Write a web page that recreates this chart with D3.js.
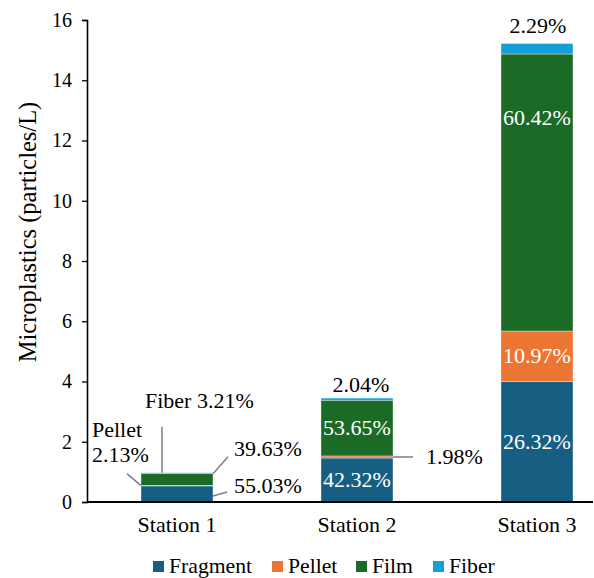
<!DOCTYPE html>
<html>
<head>
<meta charset="utf-8">
<script src="https://cdn.jsdelivr.net/npm/d3@7"></script>
<style>
  html, body { margin: 0; padding: 0; background: #fff; }
  svg { display: block; }
  svg text { font-family: "Liberation Serif"; }
</style>
</head>
<body>
<svg id="chart" width="594" height="578"></svg>
<script>
// Microplastic abundance per station, split by particle shape
const stations = ["Station 1", "Station 2", "Station 3"];
const totals = [0.97, 3.45, 15.22];          // particles/L
const shapes = ["Fragment", "Pellet", "Film", "Fiber"];
const fragmentPct = [55.03, 42.32, 26.32];
const pelletPct = [2.13, 1.98, 10.97];
const filmPct = [39.63, 53.65, 60.42];
const fiberPct = [3.21, 2.04, 2.29];
const colors = ["#175F82", "#EC7533", "#1B6B27", "#139FD9"];
const yTicks = [0, 2, 4, 6, 8, 10, 12, 14, 16];

const FONT = '"Liberation Serif"';
const pctBySeries = [fragmentPct, pelletPct, filmPct, fiberPct];

const svg = d3.select("#chart");
const x = d3.scaleBand().domain(stations).range([87, 627]).paddingInner(0.6).paddingOuter(0.3);
const y = d3.scaleLinear().domain([0, 16]).range([502, 20]);

// rows: one per station with segment values in particles/L
const rows = stations.map((s, i) => {
  const r = { station: s };
  shapes.forEach((k, j) => { r[k] = totals[i] * pctBySeries[j][i] / 100; r[k + "Pct"] = pctBySeries[j][i]; });
  return r;
});
const stacked = d3.stack().keys(shapes)(rows);

// bars
const layers = svg.append("g").selectAll("g").data(stacked).join("g")
  .attr("fill", (d, i) => colors[i]);
layers.selectAll("rect").data(d => d).join("rect")
  .attr("x", d => x(d.data.station))
  .attr("width", x.bandwidth())
  .attr("y", d => y(d[1]))
  .attr("height", d => y(d[0]) - y(d[1]))
  .attr("stroke", "#ffffff")
  .attr("stroke-opacity", 0.6)
  .attr("stroke-width", 0.6);

// y axis
const yAxis = svg.append("g").attr("transform", "translate(87,0)")
  .call(d3.axisLeft(y).tickValues(yTicks).tickSize(5).tickPadding(10).tickFormat(d3.format("d")));
yAxis.attr("font-family", null);
yAxis.select(".domain").attr("stroke", "#000").attr("stroke-width", 1.6);
yAxis.selectAll(".tick line").attr("stroke", "#000").attr("stroke-width", 1.3);
yAxis.selectAll(".tick text").attr("font-size", 20).style("font-family", FONT).attr("fill", "#000");

// x axis baseline and category labels
svg.append("line").attr("x1", 87).attr("x2", 593).attr("y1", y(0)).attr("y2", y(0))
  .attr("stroke", "#000").attr("stroke-width", 2.2);
svg.append("g").selectAll("text").data(stations).join("text")
  .attr("x", d => x(d) + x.bandwidth() / 2)
  .attr("y", 532)
  .attr("text-anchor", "middle")
  .attr("font-size", 22)
  .style("font-family", FONT)
  .text(d => d);

// axis title
svg.append("text")
  .attr("transform", "translate(36,232) rotate(-90)")
  .attr("text-anchor", "middle")
  .attr("font-size", 24.5)
  .style("font-family", FONT)
  .text("Microplastics (particles/L)");

const fmt = v => v.toFixed(2) + "%";
const labels = svg.append("g").attr("font-size", 22);
const addLabel = () => labels.append("text").style("font-family", FONT);
const bx = s => x(s), bw = x.bandwidth();
const seg = (key, i) => stacked[shapes.indexOf(key)][i];

// white labels centred inside large segments
const inside = [
  { key: "Fragment", i: 1 }, { key: "Film", i: 1 },
  { key: "Fragment", i: 2 }, { key: "Pellet", i: 2 }
];
inside.forEach(o => {
  const d = seg(o.key, o.i);
  addLabel()
    .attr("x", bx(stations[o.i]) + bw / 2)
    .attr("y", (y(d[0]) + y(d[1])) / 2 + 7)
    .attr("text-anchor", "middle").attr("fill", "#fff")
    .text(fmt(rows[o.i][o.key + "Pct"]));
});
// film share of station 3 sits near the top of its segment
{
  const d = seg("Film", 2);
  addLabel()
    .attr("x", bx(stations[2]) + bw / 2)
    .attr("y", y(d[1]) + 71)
    .attr("text-anchor", "middle").attr("fill", "#fff")
    .text(fmt(rows[2].FilmPct));
}

// fiber share above stations 2 and 3
[{ i: 1, dy: 6, dx: 4 }, { i: 2, dy: 10, dx: 1 }].forEach(o => {
  const d = seg("Fiber", o.i);
  addLabel()
    .attr("x", bx(stations[o.i]) + bw / 2 + o.dx)
    .attr("y", y(d[1]) - o.dy)
    .attr("text-anchor", "middle").attr("fill", "#000")
    .text(fmt(rows[o.i].FiberPct));
});

const leader = (x1, y1, x2, y2) => svg.append("line")
  .attr("x1", x1).attr("y1", y1).attr("x2", x2).attr("y2", y2)
  .attr("stroke", "#7f7f7f").attr("stroke-width", 1.5);

// station 2 pellet share with leader
{
  const d = seg("Pellet", 1);
  const ym = (y(d[0]) + y(d[1])) / 2;
  leader(bx(stations[1]) + bw, ym, bx(stations[1]) + bw + 20, ym);
  addLabel().attr("x", bx(stations[1]) + bw + 33).attr("y", ym + 7)
    .attr("fill", "#000").text(fmt(rows[1].PelletPct));
}

// station 1 shares, all outside the short bar
{
  const s = stations[0], l = bx(s), r = l + bw;
  const fib = seg("Fiber", 0), pel = seg("Pellet", 0), fil = seg("Film", 0), fra = seg("Fragment", 0);
  leader(l + 21, y(fib[1]), l + 21, y(fib[1]) - 46);
  addLabel().attr("x", l + 4).attr("y", y(fib[1]) - 65).attr("fill", "#000")
    .text("Fiber " + fmt(rows[0].FiberPct));

  const pm = (y(pel[0]) + y(pel[1])) / 2;
  leader(l - 14, pm - 12, l, pm);
  addLabel().attr("x", l - 49).attr("y", y(fib[1]) - 36).attr("fill", "#000").text("Pellet");
  addLabel().attr("x", l - 49).attr("y", y(fib[1]) - 11).attr("fill", "#000").text(fmt(rows[0].PelletPct));

  leader(r, y(fil[1]), r + 15, y(fil[1]) - 17);
  addLabel().attr("x", r + 21).attr("y", y(fil[1]) - 18).attr("fill", "#000").text(fmt(rows[0].FilmPct));

  const fm = (y(fra[0]) + y(fra[1])) / 2 - 2;
  leader(r, fm + 4, r + 14, fm);
  addLabel().attr("x", r + 21).attr("y", 493).attr("fill", "#000").text(fmt(rows[0].FragmentPct));
}

// legend
const legendX = [153, 272, 356, 433];
const legend = svg.append("g").selectAll("g").data(shapes).join("g")
  .attr("transform", (d, i) => `translate(${legendX[i]},561)`);
legend.append("rect").attr("width", 11).attr("height", 11).attr("fill", (d, i) => colors[i]);
legend.append("text").attr("x", 16).attr("y", 12).attr("font-size", 21.7).style("font-family", FONT).text(d => d);
</script>
</body>
</html>
